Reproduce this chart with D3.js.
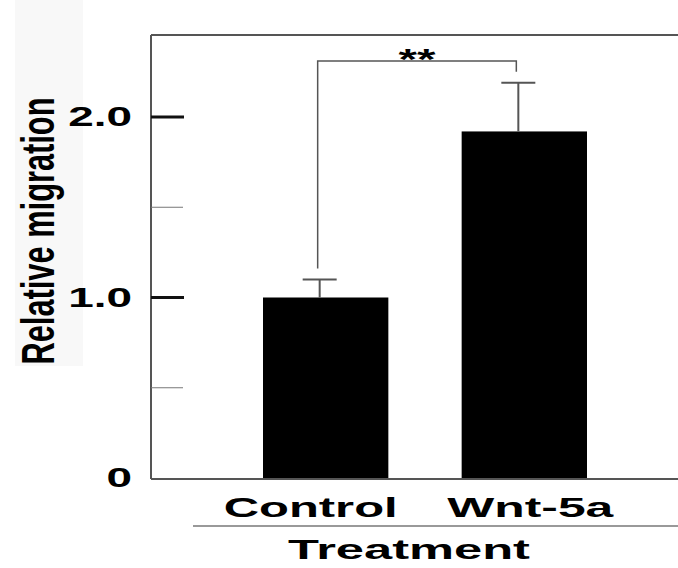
<!DOCTYPE html>
<html>
<head>
<meta charset="utf-8">
<script src="https://cdn.jsdelivr.net/npm/d3@7"></script>
<style>
  body { margin: 0; background: #fff; }
  svg { display: block; }
  text { font-family: "Liberation Sans", Arial, sans-serif; font-weight: bold; fill: #000; }
</style>
</head>
<body>
<script>
// data
const categories = ["Control", "Wnt-5a"];
const means = [1.0, 1.92];
const errors = [0.1, 0.27];
const yTickLabels = [0, 1, 2];
const majorTicks = [1, 2];
const minorTicks = [0.5, 1.5];
const sigLabel = "**";
const sigLevel = 2.31;

const W = 678, H = 568;
const dims = { l: 151, r: 678, t: 35, b: 479 };

const svg = d3.select("body").append("svg")
  .attr("width", W)
  .attr("height", H);

const y = d3.scaleLinear().domain([0, 2]).range([478, 117]);
const x = d3.scaleBand().domain(categories).range([263, 587]).paddingInner(0.369);

// faint panel behind the y title
svg.append("rect")
  .attr("x", 15).attr("y", 0).attr("width", 68).attr("height", 366)
  .attr("fill", "#f8f8f8");

// frame lines
const frame = svg.append("g").attr("stroke", "#555").attr("stroke-width", 2);
frame.append("line").attr("x1", dims.l).attr("x2", dims.r).attr("y1", dims.t).attr("y2", dims.t);
frame.append("line").attr("x1", dims.l).attr("x2", dims.r).attr("y1", dims.b).attr("y2", dims.b);
frame.append("line").attr("x1", dims.l).attr("x2", dims.l).attr("y1", dims.t).attr("y2", dims.b);

// y axis labels
const yAxis = svg.append("g")
  .attr("transform", `translate(${dims.l},0)`)
  .call(d3.axisLeft(y).tickValues(yTickLabels).tickSize(0).tickPadding(19)
    .tickFormat(d => d === 0 ? "0" : d3.format(".1f")(d)));
yAxis.select(".domain").remove();
yAxis.selectAll("text")
  .attr("font-size", 27)
  .attr("font-family", "'Liberation Sans', Arial, sans-serif")
  .attr("font-weight", "bold")
  .attr("fill", "#000")
  .attr("lengthAdjust", "spacingAndGlyphs")
  .attr("textLength", function() { return this.getComputedTextLength() * 1.7; });

// major / minor ticks pointing inward
svg.append("g").selectAll("line")
  .data(majorTicks).enter().append("line")
  .attr("x1", dims.l).attr("x2", dims.l + 33)
  .attr("y1", d => y(d)).attr("y2", d => y(d))
  .attr("stroke", "#111").attr("stroke-width", 3);
svg.append("g").selectAll("line")
  .data(minorTicks).enter().append("line")
  .attr("x1", dims.l).attr("x2", dims.l + 32)
  .attr("y1", d => y(d)).attr("y2", d => y(d))
  .attr("stroke", "#777").attr("stroke-width", 1);

// bars
svg.append("g").selectAll("rect")
  .data(categories).enter().append("rect")
  .attr("x", d => x(d))
  .attr("width", x.bandwidth())
  .attr("y", (d, i) => y(means[i]))
  .attr("height", (d, i) => y(0) - y(means[i]))
  .attr("fill", "#000");

// error bars
const cx = d => x(d) + x.bandwidth() / 2 - 6;
const eb = svg.append("g").attr("stroke", "#555").attr("stroke-width", 2);
eb.selectAll(".stem")
  .data(categories).enter().append("line")
  .attr("x1", cx).attr("x2", cx)
  .attr("y1", (d, i) => y(means[i]))
  .attr("y2", (d, i) => y(means[i] + errors[i]));
eb.selectAll(".cap")
  .data(categories).enter().append("line")
  .attr("x1", d => cx(d) - 17).attr("x2", d => cx(d) + 17)
  .attr("y1", (d, i) => y(means[i] + errors[i]))
  .attr("y2", (d, i) => y(means[i] + errors[i]));

// significance bracket
const bx = categories.map(d => cx(d) - 2);
const tops = categories.map((d, i) => y(means[i] + errors[i]) - 11);
svg.append("path")
  .attr("d", `M${bx[0]},${tops[0]}V${y(sigLevel)}H${bx[1]}V${tops[1]}`)
  .attr("fill", "none")
  .attr("stroke", "#555")
  .attr("stroke-width", 1.5);
svg.append("text")
  .attr("x", (bx[0] + bx[1]) / 2)
  .attr("y", y(sigLevel) + 8)
  .attr("text-anchor", "middle")
  .attr("font-size", 30)
  .attr("lengthAdjust", "spacingAndGlyphs")
  .attr("textLength", 37)
  .text(sigLabel);

// category labels
const labelShift = [-15, 6];
svg.append("g").selectAll("text")
  .data(categories).enter().append("text")
  .attr("x", (d, i) => x(d) + x.bandwidth() / 2 + labelShift[i])
  .attr("y", 517)
  .attr("text-anchor", "middle")
  .attr("font-size", 28)
  .attr("lengthAdjust", "spacingAndGlyphs")
  .attr("textLength", (d, i) => [174, 166][i])
  .text(d => d);

// line under categories
svg.append("line")
  .attr("x1", 193).attr("x2", W)
  .attr("y1", 526).attr("y2", 526)
  .attr("stroke", "#777").attr("stroke-width", 1.5);

// x title
svg.append("text")
  .attr("x", 409)
  .attr("y", 559)
  .attr("text-anchor", "middle")
  .attr("font-size", 28)
  .attr("lengthAdjust", "spacingAndGlyphs")
  .attr("textLength", 242)
  .text("Treatment");

// y title
svg.append("text")
  .attr("transform", "translate(54,231) rotate(-90)")
  .attr("text-anchor", "middle")
  .attr("font-size", 46)
  .attr("font-family", "'Liberation Sans Narrow', 'Liberation Sans', Arial, sans-serif")
  .attr("lengthAdjust", "spacingAndGlyphs")
  .attr("textLength", 267)
  .text("Relative migration");
</script>
</body>
</html>
